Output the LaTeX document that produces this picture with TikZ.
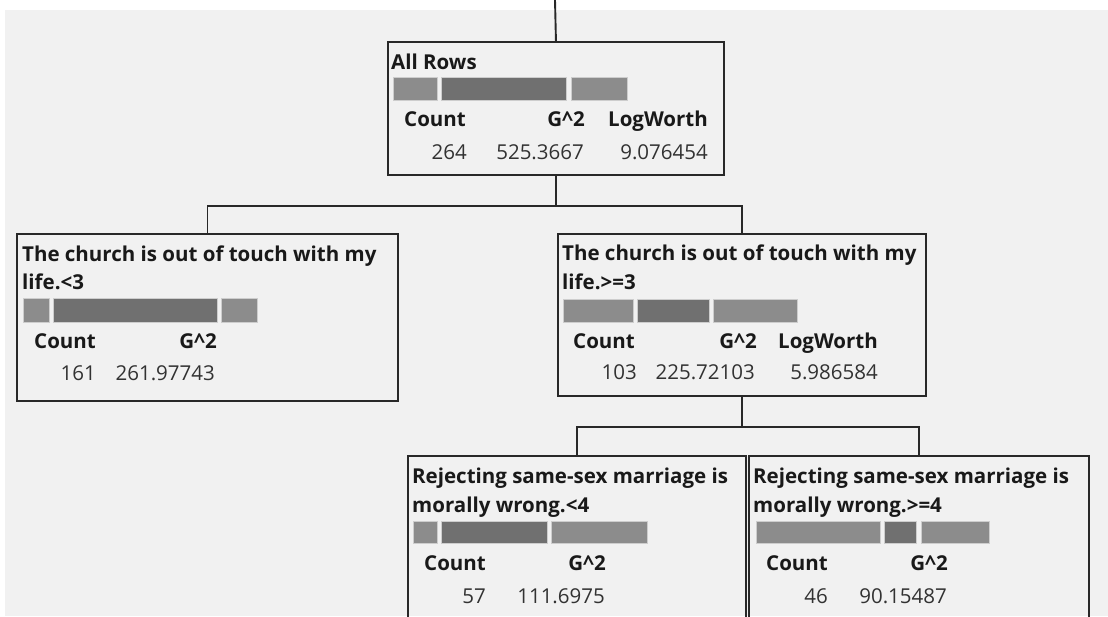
\documentclass[tikz,border=0pt]{standalone}
\usepackage{fontspec}
\setmainfont{Open Sans}
\definecolor{bgc}{RGB}{241,241,241}
\definecolor{boxline}{RGB}{40,40,40}
\definecolor{barlight}{RGB}{140,140,140}
\definecolor{bardark}{RGB}{112,112,112}
\definecolor{barborder}{RGB}{205,205,205}
\definecolor{txt}{RGB}{25,25,25}
\definecolor{numc}{RGB}{50,50,50}
\begin{document}
\begin{tikzpicture}[x=1pt,y=-1pt,
  box/.style={draw=boxline, line width=1.9pt, anchor=north west, inner sep=0pt},
  conn/.style={draw=boxline, line width=1.9pt},
  lbl/.style={inner sep=0pt, text=txt, font=\fontsize{20.5}{24}\selectfont\bfseries},
  num/.style={inner sep=0pt, text=numc, font=\fontsize{20.5}{24}\selectfont, anchor=base east},
  hdr/.style={inner sep=0pt, text=txt, font=\fontsize{20.5}{24}\selectfont\bfseries, anchor=base east},
  barL/.style={fill=barlight, draw=barborder, line width=0.8pt},
  barD/.style={fill=bardark, draw=barborder, line width=0.8pt}]
\useasboundingbox (0,0) rectangle (1108,616);
\begin{scope}
\clip (0,0) rectangle (1108,616);
\fill[white] (0,0) rectangle (1108,616);
\fill[bgc] (5,10) rectangle (1108,616);

% boxes
\node[box, minimum width=336pt, minimum height=133pt] (root) at (387,41) {};
\node[box, minimum width=381pt, minimum height=167pt] (lc) at (16,233) {};
\node[box, minimum width=368pt, minimum height=162pt] (rc) at (557,233) {};
\node[box, minimum width=338pt, minimum height=200pt] (bl) at (407,455) {};
\node[box, minimum width=340pt, minimum height=200pt] (br) at (748,455) {};

% connectors
\coordinate (top) at (555,0);
\draw[conn] (top) -- (root.north);
\draw[conn] (root.south) -- ++(0,30) -| (lc.north);
\draw[conn] (root.south) -- ++(0,30) -| (rc.north);
\draw[conn] (rc.south) -- ++(0,30) -| (bl.north);
\draw[conn] (rc.south) -- ++(0,30) -| (br.north);

% root contents
\node[lbl, anchor=base west] (rootT) at (391,69) {All Rows};
\fill[barL] (393,77) rectangle (437,100);
\fill[barD] (441,77) rectangle (566,100);
\fill[barL] (571,77) rectangle (627,100);
\node[hdr] (rootH1) at (466,126) {Count};
\node[hdr] (rootH2) at (585,126) {G\^{}2};
\node[hdr] (rootH3) at (708,126) {LogWorth};
\node[num] (rootN1) at (467,159) {264};
\node[num] (rootN2) at (584,159) {525.3667};
\node[num] (rootN3) at (708,159) {9.076454};

% left child
\node[lbl, anchor=base west] (lcT1) at (22,261) {The church is out of touch with my};
\node[lbl, anchor=base west] (lcT2) at (22,289) {life.<3};
\fill[barL] (23,298) rectangle (49,322);
\fill[barD] (53,298) rectangle (217,322);
\fill[barL] (221,298) rectangle (257,322);
\node[hdr] (lcH1) at (96,348) {Count};
\node[hdr] (lcH2) at (217,348) {G\^{}2};
\node[num] (lcN1) at (96,380) {161};
\node[num] (lcN2) at (215,380) {261.97743};

% right child
\node[lbl, anchor=base west] (rcT1) at (562,260) {The church is out of touch with my};
\node[lbl, anchor=base west] (rcT2) at (562,289) {life.>=3};
\fill[barL] (563,299) rectangle (633,322);
\fill[barD] (637,299) rectangle (709,322);
\fill[barL] (713,299) rectangle (797,322);
\node[hdr] (rcH1) at (635,348) {Count};
\node[hdr] (rcH2) at (757,348) {G\^{}2};
\node[hdr] (rcH3) at (878,348) {LogWorth};
\node[num] (rcN1) at (637,379) {103};
\node[num] (rcN2) at (755,379) {225.72103};
\node[num] (rcN3) at (878,379) {5.986584};

% bottom left
\node[lbl, anchor=base west] (blT1) at (412,483) {Rejecting same-sex marriage is};
\node[lbl, anchor=base west] (blT2) at (412,512) {morally wrong.<4};
\fill[barL] (413,521) rectangle (437,543);
\fill[barD] (441,521) rectangle (547,543);
\fill[barL] (551,521) rectangle (647,543);
\node[hdr] (blH1) at (486,570) {Count};
\node[hdr] (blH2) at (606,570) {G\^{}2};
\node[num] (blN1) at (486,603) {57};
\node[num] (blN2) at (605,603) {111.6975};

% bottom right
\node[lbl, anchor=base west] (brT1) at (753,483) {Rejecting same-sex marriage is};
\node[lbl, anchor=base west] (brT2) at (753,512) {morally wrong.>=4};
\fill[barL] (756,521) rectangle (880,543);
\fill[barD] (884,521) rectangle (916,543);
\fill[barL] (921,521) rectangle (989,543);
\node[hdr] (brH1) at (828,570) {Count};
\node[hdr] (brH2) at (948,570) {G\^{}2};
\node[num] (brN1) at (828,603) {46};
\node[num] (brN2) at (947,603) {90.15487};
\end{scope}
\end{tikzpicture}
\end{document}
